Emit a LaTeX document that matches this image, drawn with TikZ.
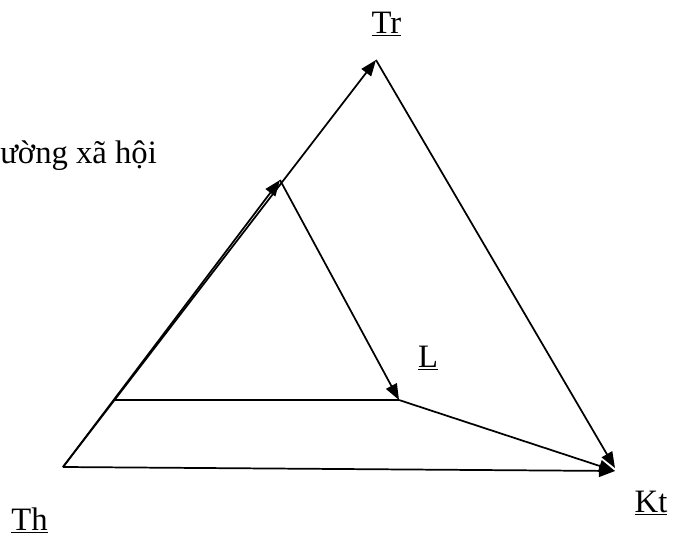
\documentclass[tikz,border=0pt]{standalone}
\usepackage{fontspec}
\setmainfont{Liberation Serif}
\usetikzlibrary{arrows.meta}
\begin{document}
\begin{tikzpicture}[x=0.75pt,y=-0.75pt,
  conn/.style={line width=1.3pt},
  arr/.style={conn,-{Triangle[length=12pt,width=9pt]}},
  lbl/.style={inner sep=0pt,anchor=base,font=\fontsize{24.5}{29}\selectfont}]
\useasboundingbox (0,0) rectangle (676,540);
\coordinate (Th) at (63,467);
\coordinate (Tr) at (376,60);
\coordinate (M) at (280,180);
\coordinate (L) at (399,400);
\coordinate (H) at (113,400);
\coordinate (Kt) at (615,468);
\coordinate (Kb) at (615,471);
\draw[arr] (Th) -- (Tr);
\draw[arr] (Th) -- (M);
\draw[arr] (M) -- (L);
\draw[conn] (H) -- (L);
\draw[arr] (L) -- (Kb);
\draw[arr] (Tr) -- (Kt);
\draw[arr] (Th) -- (Kb);
\node[lbl] (tTr) at (386.5,33) {\underline{Tr}};
\node[lbl] (tL) at (428,367) {\underline{L}};
\node[lbl] (tKt) at (651,512) {\underline{Kt}};
\node[lbl] (tTh) at (29.5,530) {\underline{Th}};
\node[lbl,anchor=base west] (tx) at (0,163) {ường xã hội};
\end{tikzpicture}
\end{document}
